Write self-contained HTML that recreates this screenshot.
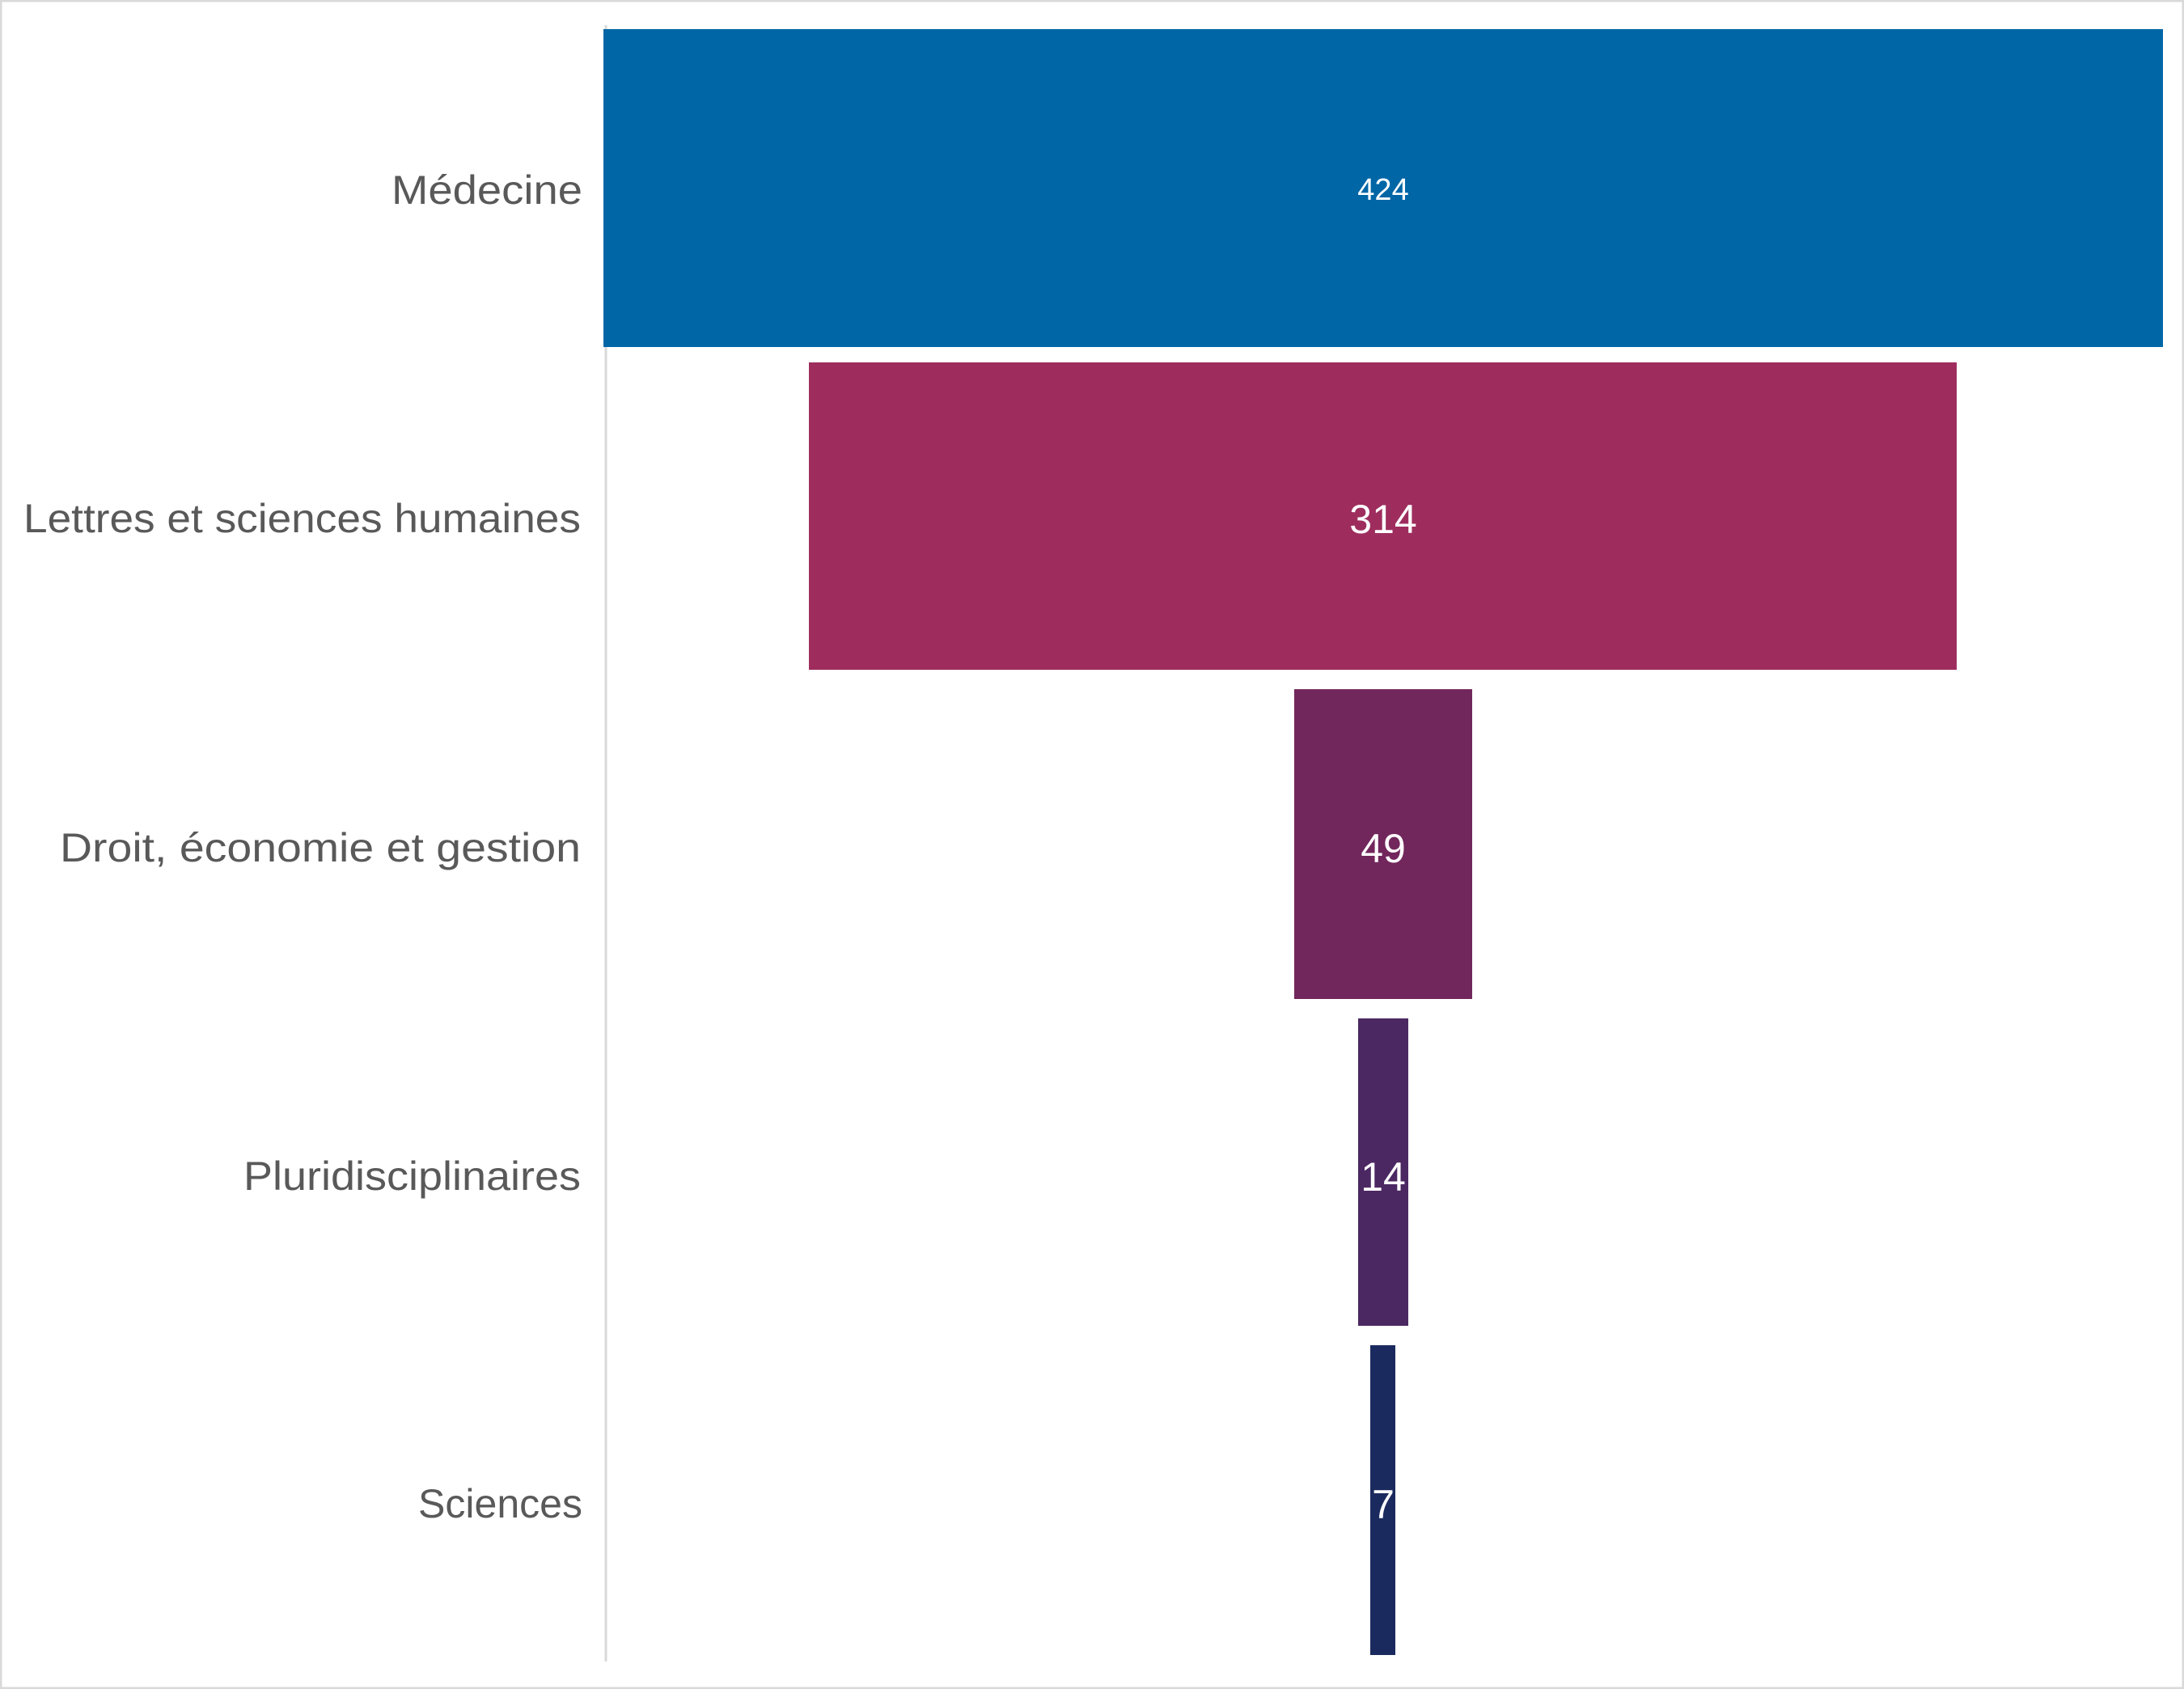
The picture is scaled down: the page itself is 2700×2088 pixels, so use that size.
<!DOCTYPE html>
<html><head><meta charset="utf-8"><style>
body{margin:0;background:#fff}
svg{display:block}
text{font-family:"Liberation Sans",sans-serif;}
</style></head><body>
<svg width="2700" height="2088" viewBox="0 0 2700 2088">
<rect x="1" y="1" width="2698" height="2086" fill="#fff" stroke="#d9d9d9" stroke-width="3"/>
<line x1="749" y1="31" x2="749" y2="2054" stroke="#d9d9d9" stroke-width="3"/>
<rect x="746" y="36" width="1928" height="393" fill="#0066a6"/>
<rect x="1000" y="448" width="1419" height="380" fill="#9e2d5e"/>
<rect x="1600" y="852" width="220" height="383" fill="#71275c"/>
<rect x="1679" y="1259" width="62" height="380" fill="#4b2862"/>
<rect x="1694" y="1663" width="31" height="383" fill="#1b2a5e"/>
<g fill="#595959" font-size="50" text-anchor="end">
<text x="720" y="252" textLength="236" lengthAdjust="spacingAndGlyphs">Médecine</text>
<text x="718" y="658" textLength="689" lengthAdjust="spacingAndGlyphs">Lettres et sciences humaines</text>
<text x="718" y="1065" textLength="644" lengthAdjust="spacingAndGlyphs">Droit, économie et gestion</text>
<text x="718" y="1471" textLength="417" lengthAdjust="spacingAndGlyphs">Pluridisciplinaires</text>
<text x="720" y="1876" textLength="203" lengthAdjust="spacingAndGlyphs">Sciences</text>
</g>
<g fill="#fff" text-anchor="middle">
<text x="1710" y="247" font-size="38">424</text>
<text x="1710" y="659" font-size="50">314</text>
<text x="1710" y="1066" font-size="50">49</text>
<text x="1710" y="1472" font-size="50">14</text>
<text x="1710" y="1877" font-size="50">7</text>
</g>
</svg>
</body></html>
